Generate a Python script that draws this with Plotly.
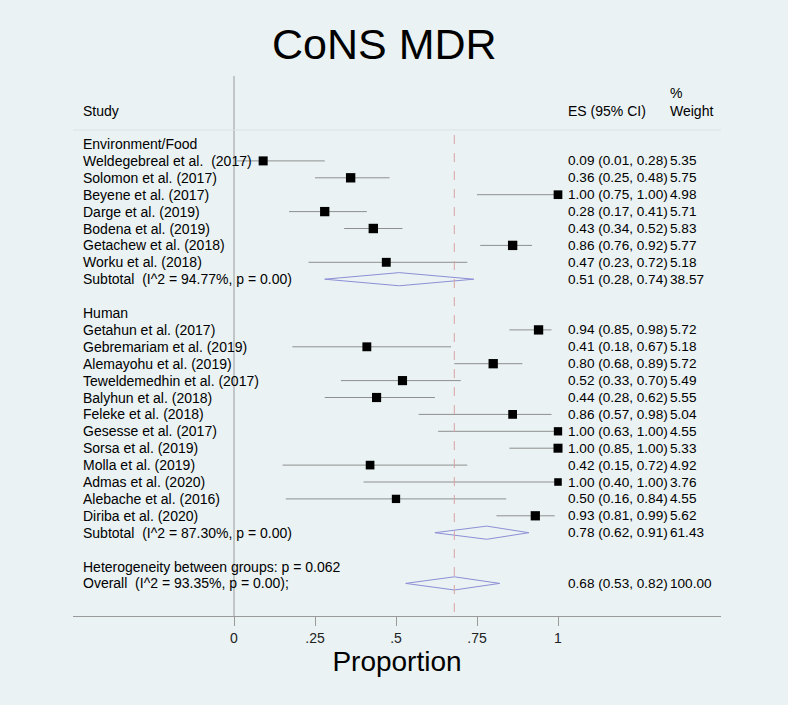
import numpy as np
import plotly.graph_objects as go

# ---------------- data ----------------
env_studies = ["Weldegebreal et al.  (2017)", "Solomon et al. (2017)", "Beyene et al. (2017)",
               "Darge et al. (2019)", "Bodena et al. (2019)", "Getachew et al. (2018)",
               "Worku et al. (2018)"]
env_es = [0.09, 0.36, 1.00, 0.28, 0.43, 0.86, 0.47]
env_lo = [0.01, 0.25, 0.75, 0.17, 0.34, 0.76, 0.23]
env_hi = [0.28, 0.48, 1.00, 0.41, 0.52, 0.92, 0.72]
env_w = [5.35, 5.75, 4.98, 5.71, 5.83, 5.77, 5.18]
env_sub = dict(label="Subtotal  (I^2 = 94.77%, p = 0.00)", es=0.51, lo=0.28, hi=0.74, w=38.57)

hum_studies = ["Getahun et al. (2017)", "Gebremariam et al. (2019)", "Alemayohu et al. (2019)",
               "Teweldemedhin et al. (2017)", "Balyhun et al. (2018)", "Feleke et al. (2018)",
               "Gesesse et al. (2017)", "Sorsa et al. (2019)", "Molla et al. (2019)",
               "Admas et al. (2020)", "Alebache et al. (2016)", "Diriba et al. (2020)"]
hum_es = [0.94, 0.41, 0.80, 0.52, 0.44, 0.86, 1.00, 1.00, 0.42, 1.00, 0.50, 0.93]
hum_lo = [0.85, 0.18, 0.68, 0.33, 0.28, 0.57, 0.63, 0.85, 0.15, 0.40, 0.16, 0.81]
hum_hi = [0.98, 0.67, 0.89, 0.70, 0.62, 0.98, 1.00, 1.00, 0.72, 1.00, 0.84, 0.99]
hum_w = [5.72, 5.18, 5.72, 5.49, 5.55, 5.04, 4.55, 5.33, 4.92, 3.76, 4.55, 5.62]
hum_sub = dict(label="Subtotal  (I^2 = 87.30%, p = 0.00)", es=0.78, lo=0.62, hi=0.91, w=61.43)

heterogeneity_text = "Heterogeneity between groups: p = 0.062"
overall = dict(label="Overall  (I^2 = 93.35%, p = 0.00);", es=0.68, lo=0.53, hi=0.82, w=100.00)

tick_vals = [0, 0.25, 0.5, 0.75, 1]
tick_text = ["0", ".25", ".5", ".75", "1"]

# ---------------- build rows ----------------
rows = []  # (kind, label, es, lo, hi, w)
rows.append(("header", "Environment/Food", None, None, None, None))
for s, e, l, h, w in zip(env_studies, env_es, env_lo, env_hi, env_w):
    rows.append(("study", s, e, l, h, w))
rows.append(("sub", env_sub["label"], env_sub["es"], env_sub["lo"], env_sub["hi"], env_sub["w"]))
rows.append(("blank", "", None, None, None, None))
rows.append(("header", "Human", None, None, None, None))
for s, e, l, h, w in zip(hum_studies, hum_es, hum_lo, hum_hi, hum_w):
    rows.append(("study", s, e, l, h, w))
rows.append(("sub", hum_sub["label"], hum_sub["es"], hum_sub["lo"], hum_sub["hi"], hum_sub["w"]))
rows.append(("blank", "", None, None, None, None))
rows.append(("header", heterogeneity_text, None, None, None, None))
rows.append(("sub", overall["label"], overall["es"], overall["lo"], overall["hi"], overall["w"]))

FONT = "Liberation Sans, Arial, sans-serif"
BG = "#EAF2F3"
X_LABEL = -0.470
X_ES = 1.028
X_W = 1.343
DIAMOND_H = 0.39

fig = go.Figure()

ci_x, ci_y = [], []
sq_x, sq_y, sq_s = [], [], []
dia_x, dia_y = [], []
for i, (kind, lab, e, l, h, w) in enumerate(rows):
    if kind == "study":
        ci_x += [l, h, None]
        ci_y += [i, i, None]
        sq_x.append(e)
        sq_y.append(i)
        sq_s.append(3.9 * np.sqrt(w))
    elif kind == "sub":
        dia_x += [l, e, h, e, l, None]
        dia_y += [i, i - DIAMOND_H, i, i + DIAMOND_H, i, None]

fig.add_trace(go.Scatter(x=ci_x, y=ci_y, mode="lines",
                         line=dict(color="#8f8f8f", width=1), hoverinfo="skip", showlegend=False))
fig.add_trace(go.Scatter(x=sq_x, y=sq_y, mode="markers",
                         marker=dict(symbol="square", size=sq_s, color="black", opacity=1,
                                     line=dict(width=0)),
                         showlegend=False))
fig.add_trace(go.Scatter(x=dia_x, y=dia_y, mode="lines",
                         line=dict(color="#8c8fd6", width=1), hoverinfo="skip", showlegend=False))

annotations = []
def txt(x, y, s, size=14, anchor="left"):
    annotations.append(dict(x=x, y=y, xref="x", yref="y", text=s, showarrow=False,
                            xanchor=anchor, yanchor="middle", borderpad=0,
                            font=dict(family=FONT, size=size, color="black")))

for i, (kind, lab, e, l, h, w) in enumerate(rows):
    if lab:
        txt(X_LABEL, i, lab)
    if e is not None:
        txt(X_ES, i, f"{e:.2f} ({l:.2f}, {h:.2f})", size=13.6)
        txt(X_W, i, f"{w:.2f}", size=13.6)

# headers
txt(X_LABEL, -1.96, "Study")
txt(X_ES, -1.96, "ES (95% CI)")
txt(X_W, -1.96, "Weight")
txt(X_W, -3.03, "%")
# title
txt(0.463, -5.92, "CoNS MDR", size=43, anchor="center")

xmin, xmax = -0.4969, 1.5031
ybot, ytop = 27.929, -8.5207

shapes = [
    dict(type="line", x0=0, x1=0, y0=-4.02, y1=ybot, xref="x", yref="y",
         line=dict(color="#9a9a9a", width=1)),
    dict(type="line", x0=overall["es"], x1=overall["es"], y0=-0.53, y1=ybot, xref="x", yref="y",
         line=dict(color="#d9a3a3", width=1, dash="dash")),
    dict(type="line", x0=xmin, x1=xmax, y0=-0.83, y1=-0.83, xref="x", yref="y",
         line=dict(color="#dce3e5", width=1)),
]

fig.update_layout(
    width=788, height=705,
    margin=dict(l=73, r=67, t=0, b=89),
    paper_bgcolor=BG, plot_bgcolor=BG,
    font=dict(family=FONT, color="black"),
    annotations=annotations,
    shapes=shapes,
    showlegend=False,
    hovermode=False,
    xaxis=dict(range=[xmin, xmax], showgrid=False, zeroline=False,
               showline=True, linecolor="#9a9a9a", linewidth=1,
               ticks="outside", ticklen=9, tickcolor="#9a9a9a", tickwidth=1,
               tickvals=tick_vals, ticktext=tick_text,
               tickfont=dict(family=FONT, size=14, color="#222"),
               title=dict(text="Proportion", font=dict(family=FONT, size=28, color="black"),
                          standoff=2)),
    yaxis=dict(range=[ybot, ytop], visible=False, showgrid=False, zeroline=False),
)

fig.write_html("out.html",
               config={"displayModeBar": False},
               post_script="document.body.style.margin='0px';document.body.style.overflow='hidden';")
